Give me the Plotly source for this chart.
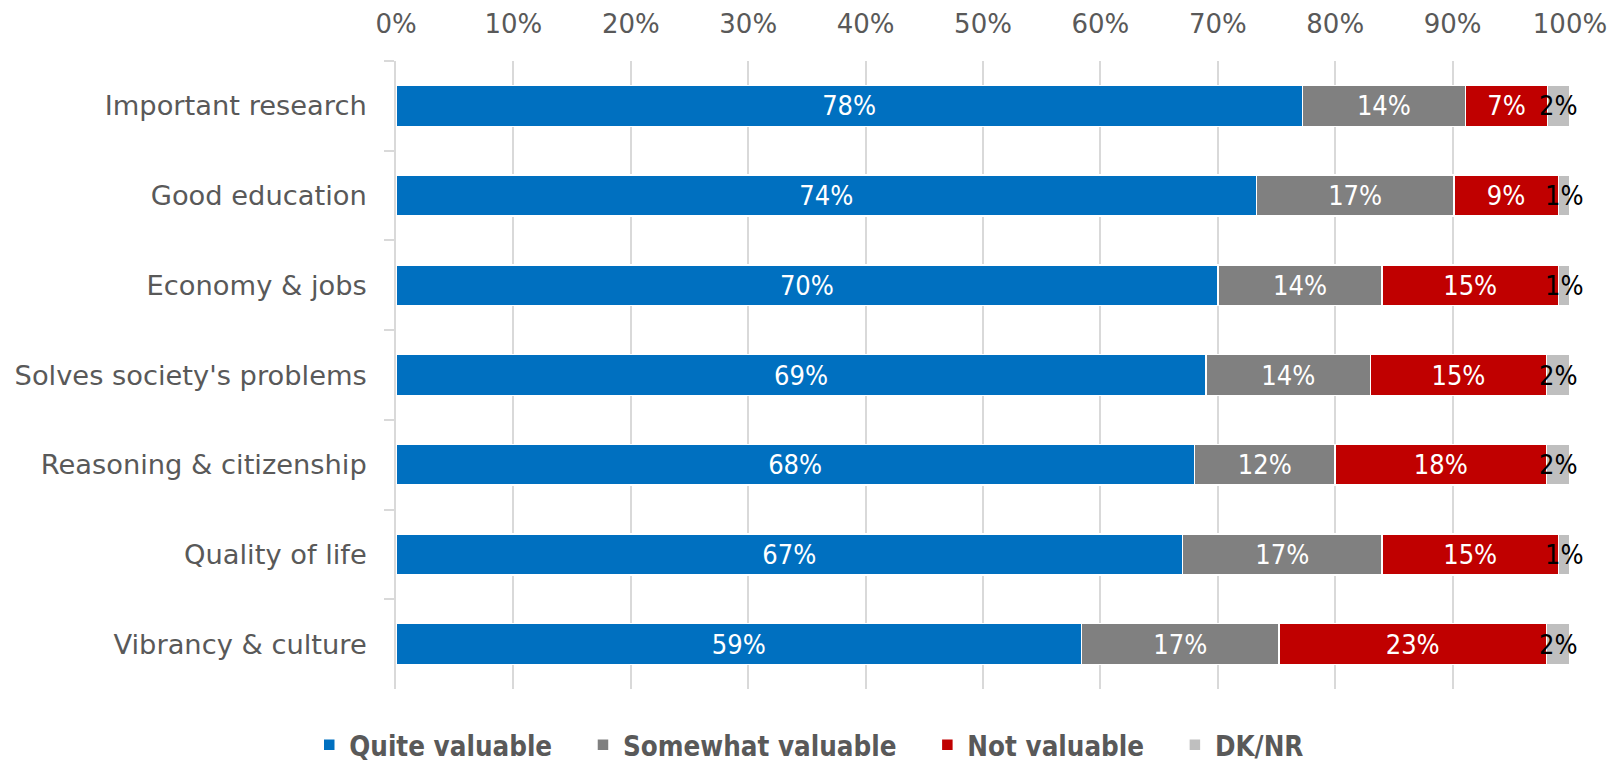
import plotly.graph_objects as go

categories = ["Important research", "Good education", "Economy & jobs",
              "Solves society's problems", "Reasoning & citizenship",
              "Quality of life", "Vibrancy & culture"]

quite_valuable = [77.2, 73.3, 70.0, 69.0, 68.0, 67.0, 58.4]
somewhat_valuable = [13.9, 16.8, 14.0, 14.0, 12.0, 17.0, 16.8]
not_valuable = [7.0, 8.9, 15.0, 15.0, 18.0, 15.0, 22.8]
dk_nr = [1.9, 1.0, 1.0, 2.0, 2.0, 1.0, 2.0]

quite_labels = ["78%", "74%", "70%", "69%", "68%", "67%", "59%"]
somewhat_labels = ["14%", "17%", "14%", "14%", "12%", "17%", "17%"]
not_labels = ["7%", "9%", "15%", "15%", "18%", "15%", "23%"]
dk_labels = ["2%", "1%", "1%", "2%", "2%", "1%", "2%"]

x_ticks = [0, 10, 20, 30, 40, 50, 60, 70, 80, 90, 100]
x_tick_labels = ["0%", "10%", "20%", "30%", "40%", "50%", "60%", "70%", "80%", "90%", "100%"]

series = [
    ("Quite valuable", quite_valuable, quite_labels, "#0070C0"),
    ("Somewhat valuable", somewhat_valuable, somewhat_labels, "#808080"),
    ("Not valuable", not_valuable, not_labels, "#C00000"),
    ("DK/NR", dk_nr, dk_labels, "#BFBFBF"),
]

LABEL_FONT = "Liberation Sans Narrow, DejaVu Sans Condensed, DejaVu Sans"
AXIS_FONT = "DejaVu Sans, Verdana, sans-serif"
PAD = "\u00a0" * 3

fig = go.Figure()
for i, (name, vals, labels, color) in enumerate(series):
    is_dk = (name == "DK/NR")
    fig.add_trace(go.Bar(
        y=categories, x=vals, name=name + ("" if is_dk else PAD), orientation="h",
        marker=dict(color=color, line=dict(color="white", width=1.5)),
        text=None if is_dk else labels,
        textposition="none" if is_dk else "inside",
        insidetextanchor="middle", textangle=0, constraintext="none",
        insidetextfont=dict(color="white", size=27, family=LABEL_FONT),
    ))

# DK/NR labels centred on their small segments, drawn in black
for cat, q, s, n, d, lab in zip(categories, quite_valuable, somewhat_valuable,
                                not_valuable, dk_nr, dk_labels):
    fig.add_annotation(x=q + s + n + d / 2, y=cat, text=lab, showarrow=False,
                       xref="x", yref="y", xanchor="center", yanchor="middle",
                       font=dict(color="black", size=27, family=LABEL_FONT))

fig.update_layout(
    barmode="stack",
    bargap=0.545,
    width=1617, height=760,
    margin=dict(l=388, r=55, t=53, b=79, autoexpand=False),
    paper_bgcolor="white", plot_bgcolor="white",
    showlegend=True,
    legend=dict(orientation="h", x=0.352, xanchor="center", y=-0.089, yanchor="middle",
                font=dict(size=27.5, color="#595959", family=LABEL_FONT, weight="bold"),
                itemwidth=30, traceorder="normal", bgcolor="rgba(0,0,0,0)"),
    xaxis=dict(side="top", range=[0, 100], tickvals=x_ticks, ticktext=x_tick_labels,
               showgrid=True, gridcolor="#D9D9D9", gridwidth=1.5, zeroline=False,
               showline=False, ticks="", ticklabelstandoff=22, automargin=False,
               tickfont=dict(size=26, color="#595959", family=AXIS_FONT), fixedrange=True),
    yaxis=dict(autorange="reversed", showline=True, linecolor="#D9D9D9", linewidth=1.5,
               ticks="outside", tickson="boundaries", ticklen=10, tickcolor="#D9D9D9",
               tickwidth=1.5, ticklabelstandoff=22, automargin=False,
               tickfont=dict(size=27.3, color="#595959", family=AXIS_FONT), fixedrange=True),
    font=dict(family=AXIS_FONT),
)

fig.write_html("out.html")
